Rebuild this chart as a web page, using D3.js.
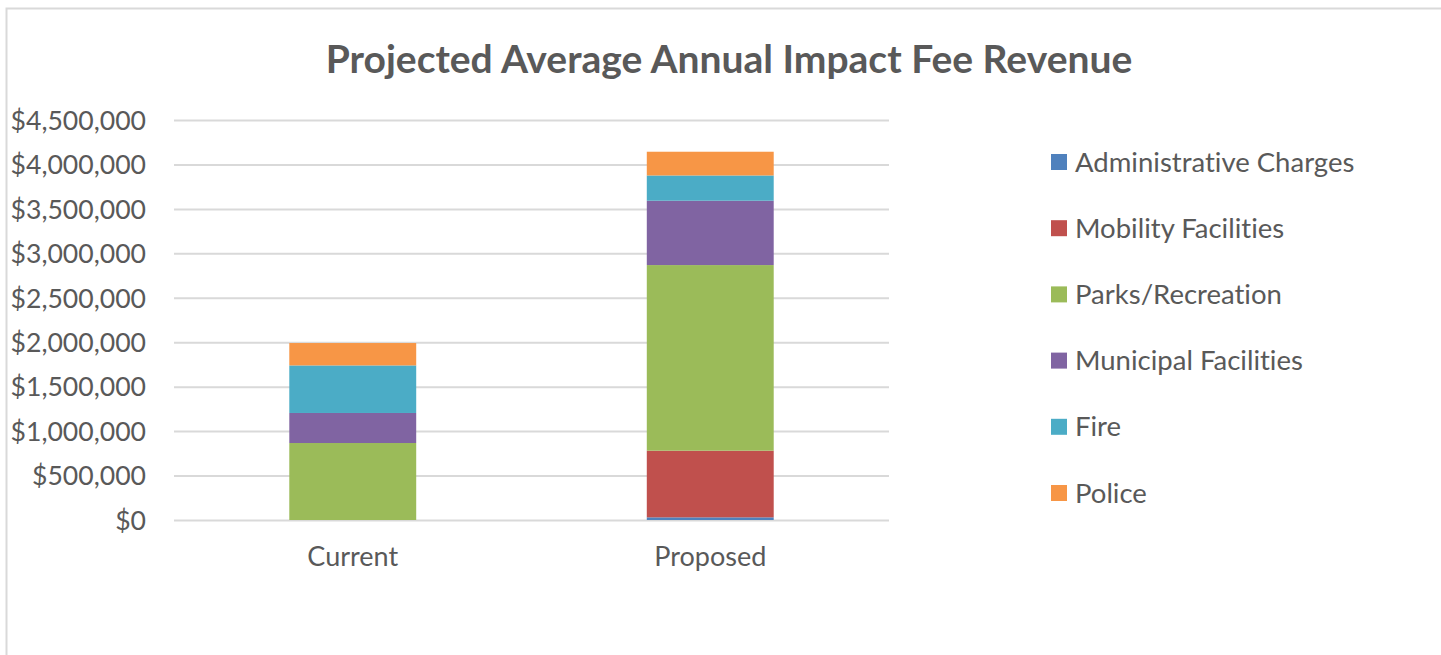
<!DOCTYPE html>
<html>
<head>
<meta charset="utf-8">
<script src="https://cdn.jsdelivr.net/npm/d3@7"></script>
<style>
  body { margin: 0; background: #fff; }
  svg text { font-family: Lato, "Open Sans", sans-serif; fill: #595959; font-variant-ligatures: none; }
</style>
</head>
<body>
<div id="chart"></div>
<script>
// chart values
const categories = ['Current', 'Proposed'];
const seriesNames = ['Administrative Charges', 'Mobility Facilities', 'Parks/Recreation',
  'Municipal Facilities', 'Fire', 'Police'];
const seriesColors = ['#4F81BD', '#C0504D', '#9BBB59', '#8064A2', '#4BACC6', '#F79646'];
const currentValues = [0, 0, 866000, 338000, 535000, 252000];
const proposedValues = [30000, 750000, 2088000, 724000, 284000, 267000];
const yTicks = [0, 500000, 1000000, 1500000, 2000000, 2500000, 3000000, 3500000, 4000000, 4500000];

const totalWidth = 1441, totalHeight = 655;
const margins = {left: 174, right: 552, top: 120, bottom: 135};
const plotWidth = totalWidth - margins.left - margins.right;
const plotHeight = totalHeight - margins.top - margins.bottom;

const svg = d3.select('#chart').append('svg')
  .attr('width', totalWidth)
  .attr('height', totalHeight);

// outer chart border
svg.append('rect')
  .attr('x', 6.5).attr('y', 8.5)
  .attr('width', totalWidth + 20).attr('height', totalHeight + 20)
  .style('fill', 'none')
  .style('stroke', '#d9d9d9')
  .style('stroke-width', 2);

svg.append('text')
  .attr('x', 729)
  .attr('y', 73)
  .attr('text-anchor', 'middle')
  .style('font-size', '39px')
  .style('font-weight', 'bold')
  .text('Projected Average Annual Impact Fee Revenue');

const table = categories.map((c, i) => {
  const vals = i === 0 ? currentValues : proposedValues;
  const row = {category: c};
  seriesNames.forEach((s, j) => row[s] = vals[j]);
  return row;
});
const stacked = d3.stack().keys(seriesNames)(table);

const xScale = d3.scaleBand().domain(categories)
  .range([0, plotWidth])
  .paddingInner(0.645).paddingOuter(0.3225);
const yScale = d3.scaleLinear().domain([0, 4500000]).range([plotHeight, 0]);

const plot = svg.append('g')
  .attr('transform', 'translate(' + [margins.left, margins.top] + ')');

// gridlines
const yAxis = d3.axisLeft(yScale).tickValues(yTicks).tickSize(-plotWidth).tickPadding(28)
  .tickFormat(d => '$' + d3.format(',')(d));
const yAxisG = plot.append('g').attr('class', 'axis axis--y').call(yAxis);
yAxisG.select('.domain').remove();
yAxisG.selectAll('line').style('stroke', '#d9d9d9').style('stroke-width', 2);
yAxisG.selectAll('text').style('font-size', '26.6px').attr('dy', '0.35em');

const layers = plot.selectAll('g.layer')
  .data(stacked)
  .enter()
  .append('g')
  .attr('class', 'layer')
  .style('fill', (d, i) => seriesColors[i]);

layers.selectAll('rect')
  .data(d => d)
  .enter()
  .append('rect')
  .attr('x', d => xScale(d.data.category))
  .attr('width', xScale.bandwidth())
  .attr('y', d => yScale(d[1]))
  .attr('height', d => yScale(d[0]) - yScale(d[1]));

const xAxisG = plot.append('g')
  .attr('transform', 'translate(' + [0, plotHeight] + ')')
  .call(d3.axisBottom(xScale).tickSize(0).tickPadding(27));
xAxisG.select('.domain').remove();
xAxisG.selectAll('text').style('font-size', '27px');

// legend
const legend = svg.append('g')
  .attr('class', 'legend')
  .attr('transform', 'translate(' + [1051, 162] + ')');
const legendItems = legend.selectAll('g.item')
  .data(seriesNames)
  .enter()
  .append('g')
  .attr('class', 'item')
  .attr('transform', (d, i) => 'translate(' + [0, i * 66.2] + ')');
legendItems.append('rect')
  .attr('x', 0).attr('y', -8)
  .attr('width', 16).attr('height', 16)
  .style('fill', (d, i) => seriesColors[i]);
legendItems.append('text')
  .attr('x', 24)
  .attr('dy', '0.35em')
  .style('font-size', '27.5px')
  .text(d => d);
</script>
</body>
</html>
